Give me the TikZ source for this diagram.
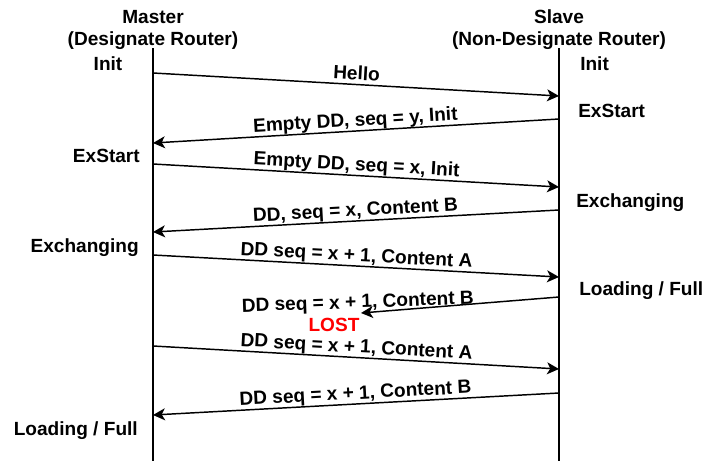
\documentclass[tikz,border=0pt]{standalone}
\usepackage{fontspec}
\setmainfont{Liberation Sans}
\usetikzlibrary{arrows.meta}

\begin{document}
\begin{tikzpicture}[x=0.75pt,y=-0.75pt]

\tikzset{txt/.style = {font=\bfseries\fontsize{14.3}{17}\selectfont, inner sep=0pt}}
\tikzset{lifeline/.style = {line width=1.2pt}}
\tikzset{msg/.style = {-{Stealth[length=9pt,width=9pt,inset=2.5pt]}, line width=1.1pt}}
\tikzset{lbl/.style = {txt, above, sloped, inner sep=1pt, text depth=2pt}}

\useasboundingbox (0,0) rectangle (704,461);

% routers
\node[txt, anchor=base] (master) at (153,23) {Master};
\node[txt, anchor=base] (masterrole) at (153,45) {(Designate Router)};
\node[txt, anchor=base] (slave) at (559,23) {Slave};
\node[txt, anchor=base] (slaverole) at (559,45) {(Non-Designate Router)};

\coordinate (mtop) at (153,48);
\coordinate (mbot) at (153,461);
\coordinate (stop) at (559,48);
\coordinate (sbot) at (559,461);
\draw[lifeline] (mtop) -- (mbot);
\draw[lifeline] (stop) -- (sbot);

% states
\node[txt, anchor=base] (minit) at (108,70) {Init};
\node[txt, anchor=base east] (mexstart) at (140,162) {ExStart};
\node[txt, anchor=base east] (mexch) at (139,252) {Exchanging};
\node[txt, anchor=base east] (mfull) at (138,435) {Loading / Full};
\node[txt, anchor=base west] (sinit) at (580,70) {Init};
\node[txt, anchor=base west] (sexstart) at (578,117) {ExStart};
\node[txt, anchor=base west] (sexch) at (576,207) {Exchanging};
\node[txt, anchor=base west] (sfull) at (579,295) {Loading / Full};

% message ends
\coordinate (m1) at (153,73);  \coordinate (s1) at (559,96);
\coordinate (s2) at (559,119); \coordinate (m2) at (153,143);
\coordinate (m3) at (153,164); \coordinate (s3) at (559,187);
\coordinate (s4) at (559,210); \coordinate (m4) at (153,232);
\coordinate (m5) at (153,255); \coordinate (s5) at (559,277);
\coordinate (s6) at (559,297); \coordinate (lost) at (361,313);
\coordinate (m7) at (153,346); \coordinate (s7) at (559,369);
\coordinate (s8) at (559,393); \coordinate (m8) at (153,415);

%messages
\draw[msg] (m1) -- node[lbl] {Hello} (s1);
\draw[msg] (s2) -- node[lbl] {Empty DD, seq = y, Init} (m2);
\draw[msg] (m3) -- node[lbl] {Empty DD, seq = x, Init} (s3);
\draw[msg] (s4) -- node[lbl] {DD, seq = x, Content B} (m4);
\draw[msg] (m5) -- node[lbl] {DD seq = x + 1, Content A} (s5);
\draw[msg] (s6) -- (lost);
\node[txt, anchor=base, rotate=2] (lostmsg) at (358,308) {DD seq = x + 1, Content B};
\draw[msg] (m7) -- node[lbl] {DD seq = x + 1, Content A} (s7);
\draw[msg] (s8) -- node[lbl] {DD seq = x + 1, Content B} (m8);

\node[txt, anchor=base, text=red] (lostlbl) at (334,331) {LOST};

\end{tikzpicture}
\end{document}
